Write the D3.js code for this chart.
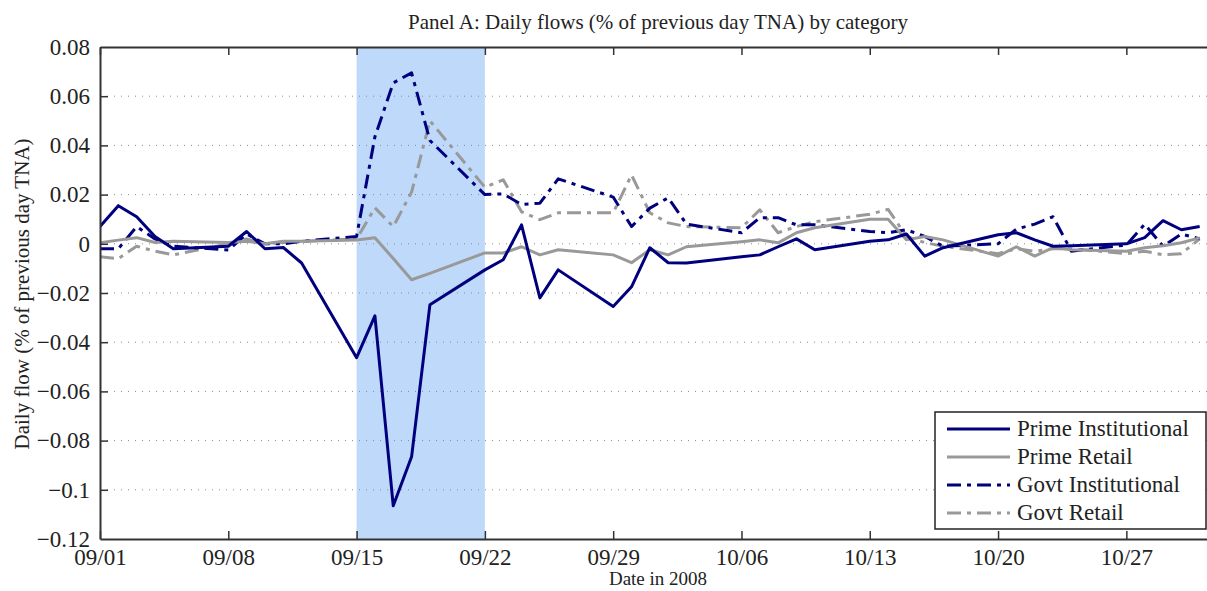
<!DOCTYPE html>
<html>
<head>
<meta charset="utf-8">
<script src="https://cdn.jsdelivr.net/npm/d3@7"></script>
<style>
  body { margin: 0; background: #fff; }
  svg { display: block; font-family: "Liberation Serif", "DejaVu Serif", serif; }
</style>
</head>
<body>
<script>
// business days shown on the chart (2008)
var DAYS = ["09/01","09/02","09/03","09/04","09/05",
  "09/08","09/09","09/10","09/11","09/12",
  "09/15","09/16","09/17","09/18","09/19",
  "09/22","09/23","09/24","09/25","09/26",
  "09/29","09/30","10/01","10/02","10/03",
  "10/06","10/07","10/08","10/09","10/10",
  "10/13","10/14","10/15","10/16","10/17",
  "10/20","10/21","10/22","10/23","10/24",
  "10/27","10/28","10/29","10/30","10/31"];

var primeInst = [0.007, 0.0155, 0.011, 0.003, -0.002,
  -0.001, 0.005, -0.002, -0.0015, -0.0078,
  -0.0463, -0.0293, -0.1065, -0.0866, -0.0248,
  -0.0106, -0.0065, 0.0077, -0.022, -0.0106,
  -0.0255, -0.0175, -0.0016, -0.0077, -0.0078,
  -0.0053, -0.0045, -0.0012, 0.002, -0.0024,
  0.001, 0.0016, 0.004, -0.005, -0.0016,
  0.0037, 0.0045, 0.0016, -0.001, -0.0008,
  0.0, 0.0025, 0.0094, 0.0057, 0.007];

var primeRetail = [0.0004, 0.0015, 0.0025, 0.0005, 0.001,
  0.0005, 0.001, 0.0, 0.001, 0.001,
  0.0015, 0.0025, -0.006, -0.0146, -0.012,
  -0.0037, -0.0037, -0.0012, -0.0045, -0.0024,
  -0.0045, -0.0077, -0.0024, -0.0045, -0.0012,
  0.0008, 0.0016, 0.0004, 0.0045, 0.0065,
  0.01, 0.01, 0.0016, 0.003, 0.0016,
  -0.005, -0.0012, -0.005, -0.0016, -0.0024,
  -0.003, -0.0016, -0.0008, 0.0004, 0.0024];

var govtInst = [-0.002, -0.002, 0.007, 0.002, -0.001,
  -0.0025, 0.004, 0.0, 0.0, 0.001,
  0.003, 0.0435, 0.0654, 0.0695, 0.042,
  0.02, 0.0203, 0.016, 0.0165, 0.0264,
  0.019, 0.007, 0.0145, 0.0187, 0.008,
  0.0045, 0.0106, 0.0106, 0.0077, 0.0077,
  0.005, 0.0045, 0.0057, 0.003, -0.001,
  0.0, 0.006, 0.008, 0.011, -0.003,
  -0.0005, 0.008, -0.001, 0.004, 0.002];

var govtRetail = [-0.0053, -0.006, -0.001, -0.003, -0.0045,
  0.0, 0.002, 0.0, 0.0005, 0.001,
  0.002, 0.0146, 0.007, 0.021, 0.05,
  0.023, 0.026, 0.013, 0.0098, 0.0126,
  0.0126, 0.028, 0.0126, 0.0085, 0.007,
  0.0065, 0.0138, 0.0045, 0.007, 0.009,
  0.012, 0.014, 0.003, 0.0005, -0.001,
  -0.004, -0.002, -0.003, -0.002, -0.002,
  -0.004, -0.003, -0.0045, -0.004, 0.002];

var SERIES_NAMES = ["Prime Institutional", "Prime Retail", "Govt Institutional", "Govt Retail"];
var Y_TICKS = [0.08, 0.06, 0.04, 0.02, 0, -0.02, -0.04, -0.06, -0.08, -0.1, -0.12];
var X_TICKS = ["09/01","09/08","09/15","09/22","09/29","10/06","10/13","10/20","10/27"];
var SHADE = ["09/15", "09/22"];

var W = 1207, H = 591;
var parse = function (s) { return d3.timeParse("%m/%d/%Y")(s + "/2008"); };

var x = d3.scaleTime().domain([parse("09/01"), parse("11/01")]).range([100, 1218]);
var y = d3.scaleLinear().domain([-0.12, 0.08]).range([539, 47]);

var svg = d3.select("body").append("svg").attr("width", W).attr("height", H);

// shaded crisis week
svg.append("rect")
  .attr("x", x(parse(SHADE[0]))).attr("y", y(0.08))
  .attr("width", x(parse(SHADE[1])) - x(parse(SHADE[0])))
  .attr("height", y(-0.12) - y(0.08))
  .attr("fill", "#bfd9fb");

// dotted grid
svg.append("g").selectAll("line").data(Y_TICKS.slice(1, -1)).enter().append("line")
  .attr("x1", x.range()[0]).attr("x2", x.range()[1])
  .attr("y1", function (d) { return y(d); }).attr("y2", function (d) { return y(d); })
  .attr("stroke", "#8a8a8a").attr("stroke-width", 1).attr("stroke-dasharray", "1,6");

var styles = [
  { data: primeInst, color: "#00007f", dash: null },
  { data: primeRetail, color: "#999999", dash: null },
  { data: govtInst, color: "#00007f", dash: "14,6,4,6" },
  { data: govtRetail, color: "#999999", dash: "14,6,4,6" }
];
var drawOrder = [3, 2, 1, 0];

var line = d3.line()
  .x(function (d, i) { return x(parse(DAYS[i])); })
  .y(function (d) { return y(d); });

var clip = svg.append("clipPath").attr("id", "clip").append("rect")
  .attr("x", 100).attr("y", 47).attr("width", 1118).attr("height", 492);

drawOrder.forEach(function (k) {
  var s = styles[k];
  svg.append("path").datum(s.data)
    .attr("clip-path", "url(#clip)")
    .attr("d", line)
    .attr("fill", "none")
    .attr("stroke", s.color)
    .attr("stroke-width", 3)
    .attr("stroke-linejoin", "round")
    .attr("stroke-dasharray", s.dash);
});

// axes (matlab style box, ticks inside)
var xTickDates = X_TICKS.map(parse);
var axBottom = d3.axisBottom(x).tickValues(xTickDates).tickFormat(d3.timeFormat("%m/%d")).tickSizeInner(-8).tickSizeOuter(0).tickPadding(10);
var axTop = d3.axisTop(x).tickValues(xTickDates).tickFormat("").tickSizeInner(-8).tickSizeOuter(0);
var axLeft = d3.axisLeft(y).tickValues(Y_TICKS).tickFormat(function (d) { return d === 0 ? "0" : d3.format("")(d).replace("-", "\u2212"); }).tickSizeInner(-8).tickSizeOuter(0).tickPadding(10);

var gb = svg.append("g").attr("transform", "translate(0," + y(-0.12) + ")").call(axBottom);
var gt = svg.append("g").attr("transform", "translate(0," + y(0.08) + ")").call(axTop);
var gl = svg.append("g").attr("transform", "translate(100,0)").call(axLeft);

[gb, gt, gl].forEach(function (g) {
  g.select(".domain").attr("stroke", "#333").attr("stroke-width", 2);
  g.selectAll(".tick line").attr("stroke", "#333").attr("stroke-width", 1.5);
  g.selectAll("text").attr("fill", "#222").style("font-size", "23px").style("font-family", "Liberation Serif, serif");
});
gl.selectAll(".tick").filter(function (d) { return d === 0.08 || d === -0.12; }).select("line").remove();

// titles
svg.append("text").attr("x", 658).attr("y", 29).attr("text-anchor", "middle")
  .style("font-size", "21px").attr("fill", "#222")
  .text("Panel A: Daily flows (% of previous day TNA) by category");
svg.append("text").attr("x", 658).attr("y", 585).attr("text-anchor", "middle")
  .style("font-size", "19px").attr("fill", "#222")
  .text("Date in 2008");
svg.append("text").attr("transform", "translate(29,294) rotate(-90)").attr("text-anchor", "middle")
  .style("font-size", "21px").attr("fill", "#222")
  .text("Daily flow (% of previous day TNA)");

// legend
var lg = svg.append("g").attr("transform", "translate(935,412)");
lg.append("rect").attr("width", 271).attr("height", 117)
  .attr("fill", "#fff").attr("stroke", "#222").attr("stroke-width", 1.5);
SERIES_NAMES.forEach(function (name, i) {
  var s = styles[i];
  var yy = 17 + i * 28;
  lg.append("line").attr("x1", 12).attr("x2", 75).attr("y1", yy).attr("y2", yy)
    .attr("stroke", s.color).attr("stroke-width", 3).attr("stroke-dasharray", s.dash);
  lg.append("text").attr("x", 82).attr("y", yy + 7)
    .style("font-size", "23px").attr("fill", "#222").text(name);
});
</script>
</body>
</html>
